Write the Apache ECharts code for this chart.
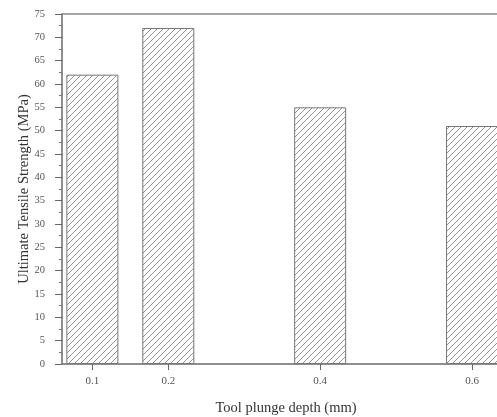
<!DOCTYPE html>
<html>
<head>
    <meta charset="utf-8">
    <title>UTS vs plunge depth</title>
    <script src="https://cdn.jsdelivr.net/npm/echarts@6/dist/echarts.min.js"></script>
    <style>
        html, body { margin: 0; padding: 0; background: #fff; }
        #container { width: 497px; height: 417px; }
    </style>
</head>
<body>
<div id="container"></div>
<script type="text/javascript">
    // data
    var depths = [0.1, 0.2, 0.4, 0.6];
    var strengths = [62, 72, 55, 51];
    var xTicks = [0.1, 0.2, 0.4, 0.6];

    // diagonal hatch pattern for the bars
    function hatch() {
        var c = document.createElement('canvas');
        c.width = 6; c.height = 6;
        var g = c.getContext('2d');
        g.fillStyle = '#fff';
        g.fillRect(0, 0, 6, 6);
        g.strokeStyle = '#8a8a8a';
        g.lineWidth = 0.9;
        for (var k = -1; k <= 1; k++) {
            g.beginPath();
            g.moveTo(k * 6, 6);
            g.lineTo(k * 6 + 6, 0);
            g.stroke();
        }
        return c;
    }

    var font = '"Liberation Serif", "DejaVu Serif", serif';
    var dom = document.getElementById('container');
    var myChart = echarts.init(dom);
    var option = {
        animation: false,
        grid: {
            left: 62, right: -13, top: 14, bottom: 53,
            outerBoundsMode: 'none',
            containLabel: false,
            show: true, borderColor: '#888', borderWidth: 1.5
        },
        xAxis: {
            type: 'value',
            min: 0.06, max: 0.65,
            name: 'Tool plunge depth (mm)',
            nameLocation: 'middle',
            nameGap: 37,
            nameMoveOverlap: false,
            nameTextStyle: { fontFamily: font, fontSize: 14.5, color: '#333' },
            axisLine: { lineStyle: { color: '#888', width: 1.5 } },
            axisTick: { customValues: xTicks, length: 6, lineStyle: { color: '#666' } },
            axisLabel: {
                customValues: xTicks, fontFamily: font, fontSize: 11, color: '#555', margin: 12,
                formatter: function (v) { return v.toFixed(1); }
            },
            splitLine: { show: false }
        },
        yAxis: {
            type: 'value',
            min: 0, max: 75, interval: 5,
            name: 'Ultimate Tensile Strength (MPa)',
            nameLocation: 'middle',
            nameGap: 30,
            nameMoveOverlap: false,
            nameTextStyle: { fontFamily: font, fontSize: 14.5, color: '#333' },
            axisLine: { show: true, lineStyle: { color: '#888', width: 1.5 } },
            axisTick: { show: true, length: 7, lineStyle: { color: '#666' } },
            minorTick: { show: true, splitNumber: 2, length: 3, lineStyle: { color: '#777' } },
            axisLabel: { fontFamily: font, fontSize: 10.5, color: '#555', margin: 17 },
            splitLine: { show: false }
        },
        series: [{
            type: 'bar',
            barWidth: 52,
            data: depths.map(function (d, i) { return [d, strengths[i]]; }),
            itemStyle: {
                color: { image: hatch(), repeat: 'repeat' },
                borderColor: '#777',
                borderWidth: 1
            }
        }]
    };
    myChart.setOption(option);
</script>
</body>
</html>
